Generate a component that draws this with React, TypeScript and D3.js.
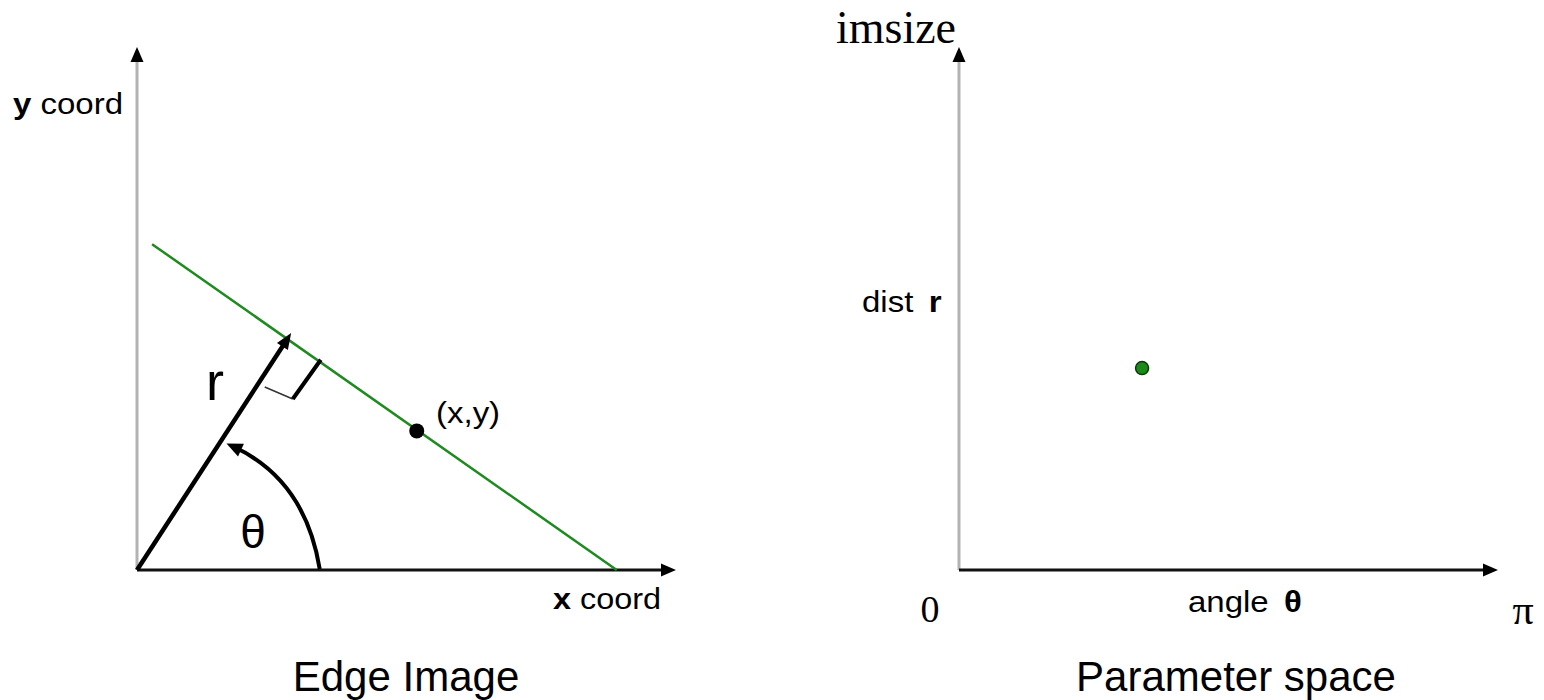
import React from "react";
import * as d3 from "d3";

// ---------- data (left panel: edge image, units 0..100) ----------
const edgeLine = [
  { x: 2.8, y: 62.3 },
  { x: 89.0, y: 0 },
];
const rVector = [
  { x: 0, y: 0 },
  { x: 28.6, y: 45.3 },
];
const rightAngleThin = [
  { x: 23.7, y: 35.0 },
  { x: 28.9, y: 32.7 },
];
const rightAngleThick = [
  { x: 28.9, y: 32.7 },
  { x: 34.1, y: 40.2 },
];
const thetaArc = [
  { x: 33.9, y: 0.2 },
  { x: 31.2, y: 17.2 },
  { x: 16.6, y: 24.2 },
];
const edgePoint = [{ x: 51.9, y: 26.6 }];

// ---------- data (right panel: parameter space) ----------
const paramPoint = [{ theta: 1.067, r: 38.6 }];
const thetaTicks = ["0", "π"];
const imsizeMax = 100;

const SANS = "'Liberation Sans', Arial, sans-serif";
const SERIF = "'Liberation Serif', 'Times New Roman', serif";

function arrowHead(tipX: number, tipY: number, dx: number, dy: number, len: number, half: number) {
  const n = Math.hypot(dx, dy);
  const ux = dx / n, uy = dy / n;
  const bx = tipX - ux * len, by = tipY - uy * len;
  const px = -uy, py = ux;
  return `M${tipX},${tipY}L${bx + px * half},${by + py * half}L${bx - px * half},${by - py * half}Z`;
}

function Label({ x, y, children, size = 30, sx = 1.1 }: any) {
  return (
    <text
      transform={`translate(${x},${y}) scale(${sx},1)`}
      fontFamily={SANS}
      fontSize={size}
      fill="#000"
    >
      {children}
    </text>
  );
}

export default function App() {
  const lx = d3.scaleLinear().domain([0, 100]).range([137, 676]);
  const ly = d3.scaleLinear().domain([0, 100]).range([570, 47]);
  const rx = d3.scaleLinear().domain([0, Math.PI]).range([959, 1498]);
  const ry = d3.scaleLinear().domain([0, imsizeMax]).range([570, 47]);

  const line = d3
    .line<{ x: number; y: number }>()
    .x((d) => lx(d.x))
    .y((d) => ly(d.y));

  const p0 = thetaArc[0], c = thetaArc[1], p2 = thetaArc[2];
  const arcTipX = lx(p2.x), arcTipY = ly(p2.y);
  const arcDx = lx(p2.x) - lx(c.x), arcDy = ly(p2.y) - ly(c.y);

  const rTipX = lx(rVector[1].x), rTipY = ly(rVector[1].y);
  const rDx = rTipX - lx(rVector[0].x), rDy = rTipY - ly(rVector[0].y);
  const rLen = Math.hypot(rDx, rDy);
  const rEndX = rTipX - (rDx / rLen) * 10, rEndY = rTipY - (rDy / rLen) * 10;

  const arcN = Math.hypot(arcDx, arcDy);
  const arcEnd = { x: arcTipX - (arcDx / arcN) * 8, y: arcTipY - (arcDy / arcN) * 8 };

  return (
    <svg
      width={1544}
      height={700}
      style={{ position: "absolute", left: 0, top: 0, background: "#fff" }}
    >
      {/* ===== Left panel ===== */}
      <line x1={lx(0)} y1={ly(0)} x2={lx(0)} y2={ly(100) + 12} stroke="#b3b3b3" strokeWidth={3} />
      <path d={arrowHead(lx(0), ly(100), 0, -1, 15, 6.5)} fill="#000" />
      <line x1={lx(0)} y1={ly(0)} x2={lx(100) - 12} y2={ly(0)} stroke="#111" strokeWidth={3} />
      <path d={arrowHead(lx(100), ly(0), 1, 0, 15, 6.5)} fill="#000" />

      <path d={line(edgeLine) as string} stroke="#1f8a1f" strokeWidth={2.5} fill="none" />

      <line x1={lx(0)} y1={ly(0)} x2={rEndX} y2={rEndY} stroke="#000" strokeWidth={4.5} />
      <path d={arrowHead(rTipX, rTipY, rDx, rDy, 16, 6.5)} fill="#000" />

      <path d={line(rightAngleThin) as string} stroke="#333" strokeWidth={1.5} fill="none" />
      <path d={line(rightAngleThick) as string} stroke="#000" strokeWidth={4} fill="none" />

      <path
        d={`M${lx(p0.x)},${ly(p0.y)}Q${lx(c.x)},${ly(c.y)} ${arcEnd.x},${arcEnd.y}`}
        stroke="#000"
        strokeWidth={4}
        fill="none"
      />
      <path d={arrowHead(arcTipX, arcTipY, arcDx, arcDy, 16, 7)} fill="#000" />

      {edgePoint.map((p, i) => (
        <circle key={i} cx={lx(p.x)} cy={ly(p.y)} r={7.5} fill="#000" />
      ))}

      <Label x={13} y={114}>
        <tspan fontWeight="bold">y</tspan> coord
      </Label>
      <Label x={553} y={609} sx={1.08}>
        <tspan fontWeight="bold">x</tspan> coord
      </Label>
      <Label x={436} y={423}>
        (x,y)
      </Label>
      <text x={206} y={400} fontFamily={SANS} fontSize={54} fill="#000">
        r
      </text>
      <text x={253} y={548} fontFamily={SANS} fontSize={46} textAnchor="middle" fill="#000">
        θ
      </text>
      <text x={406} y={691} fontFamily={SANS} fontSize={42} textAnchor="middle" fill="#000">
        Edge Image
      </text>

      {/* ===== Right panel ===== */}
      <line x1={rx(0)} y1={ry(0)} x2={rx(0)} y2={ry(imsizeMax) + 12} stroke="#b3b3b3" strokeWidth={3} />
      <path d={arrowHead(rx(0), ry(imsizeMax), 0, -1, 15, 6.5)} fill="#000" />
      <line x1={rx(0)} y1={ry(0)} x2={rx(Math.PI) - 12} y2={ry(0)} stroke="#111" strokeWidth={3} />
      <path d={arrowHead(rx(Math.PI), ry(0), 1, 0, 15, 6.5)} fill="#000" />

      {paramPoint.map((p, i) => (
        <circle key={i} cx={rx(p.theta)} cy={ry(p.r)} r={6.5} fill="#1a8a1a" stroke="#0a3a0a" strokeWidth={1.5} />
      ))}

      <text x={rx(0) - 3} y={43} fontFamily={SERIF} fontSize={46} textAnchor="end" fill="#000" transform="">
        imsize
      </text>
      <Label x={862} y={312}>
        dist<tspan dx={14} fontWeight="bold">r</tspan>
      </Label>
      <text x={rx(0) - 29} y={622} fontFamily={SERIF} fontSize={38} textAnchor="middle" fill="#000">
        {thetaTicks[0]}
      </text>
      <text x={rx(Math.PI) + 25} y={624} fontFamily={SERIF} fontSize={42} textAnchor="middle" fill="#000">
        {thetaTicks[1]}
      </text>
      <Label x={1188} y={612}>
        angle<tspan dx={14} fontWeight="bold">θ</tspan>
      </Label>
      <text x={1236} y={691} fontFamily={SANS} fontSize={42} textAnchor="middle" fill="#000">
        Parameter space
      </text>
    </svg>
  );
}
